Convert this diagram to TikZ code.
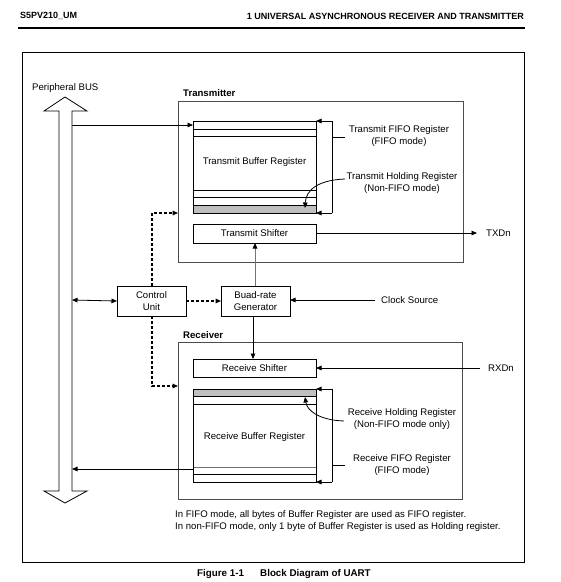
\documentclass[tikz,border=0pt]{standalone}
\usepackage{fontspec}
\setmainfont{Liberation Sans}
\usetikzlibrary{arrows.meta}
\begin{document}
\begin{tikzpicture}[x=1pt,y=-1pt,
  font=\fontsize{9.6}{12}\selectfont,
  ln/.style={line width=0.8pt, draw=black},
  box/.style={ln, rectangle, inner sep=0pt, outer sep=0pt, align=center},
  frame/.style={ln, draw=black!70, rectangle, inner sep=0pt, outer sep=0pt},
  tip/.style={-{Triangle[length=5.5pt,width=4.6pt,color=black]}},
  dtip/.style={{Triangle[length=5.5pt,width=4.6pt]}-{Triangle[length=5.5pt,width=4.6pt]}},
  dashln/.style={dash pattern=on 3pt off 2pt, line width=1.2pt},
  lbl/.style={inner sep=0pt, align=center},
  gline/.style={line width=1pt, draw=black!55},
]
\useasboundingbox (0,0) rectangle (561,582);
% header
\node[lbl, anchor=west, font=\fontsize{9}{10}\bfseries] (hl) at (20,16) {S5PV210\_UM};
\node[lbl, anchor=east, font=\fontsize{9}{10}\bfseries] (hr) at (524,16) {1 UNIVERSAL ASYNCHRONOUS RECEIVER AND TRANSMITTER};
\coordinate (rl) at (18,28);
\coordinate (rr) at (525,28);
\draw[line width=2pt] (rl) -- (rr);
% outer frame
\node[ln, rectangle, inner sep=0pt, minimum width=502, minimum height=510, anchor=north west] (outer) at (22,52) {};
% peripheral bus
\node[lbl, anchor=west] (busl) at (32,88) {Peripheral BUS};
\draw[ln] (59,111) -- (44,111) -- (65,97) -- (87,111) -- (72,111) -- (72,491) -- (87,491) -- (65,503) -- (44,491) -- (59,491) -- cycle;
\coordinate (busTx) at (72,125);
\coordinate (busCtl) at (72,300);
\coordinate (busRx) at (72,469);
% transmitter
\node[frame, minimum width=285, minimum height=161] (tx) at (320.5,181.5) {};
\node[lbl, anchor=west, font=\fontsize{9.6}{12}\bfseries] (txl) at (183,93) {Transmitter};
\node[box, minimum width=123, minimum height=92] (txbuf) at (254.5,167) {};
\node[lbl] (txbufl) at (254.5,162) {Transmit Buffer Register};
\fill[black!25] (193,205) rectangle (316,213);
\draw[ln] (193,129) -- (316,129) (193,136) -- (316,136) (193,190) -- (316,190) (193,197) -- (316,197) (193,205) -- (316,205);
\draw[ln] (txbuf.north west) rectangle (txbuf.south east);
\node[box, minimum width=123, minimum height=19] (txsh) at (254.5,233.5) {Transmit Shifter};
% tx bracket
\coordinate (tb1) at (332,121);
\coordinate (tb2) at (332,213);
\coordinate (tb3) at (332,137);
\coordinate (tb4) at (345,137);
\draw[ln] (tb1) -- (tb2);
\draw[ln, tip] (tb1) -- (tb1 -| txbuf.east);
\draw[ln, tip] (tb2) -- (tb2 -| txbuf.east);
\draw[ln] (tb3) -- (tb4);
\node[lbl] (txfifo) at (399,136) {Transmit FIFO Register\\(FIFO mode)};
\node[lbl] (txhold) at (402,183) {Transmit Holding Register\\(Non-FIFO mode)};
\coordinate (th1) at (345,179);
\coordinate (th2) at (305,208);
\draw[ln, tip] (th1) .. controls (318,180) and (306,190) .. (th2);
% TXDn
\node[lbl, anchor=west] (txd) at (486,233) {TXDn};
\draw[ln, tip] (txsh.east |- txd) -- ([xshift=-9pt]txd.west);
% control & baud
\node[box, minimum width=69, minimum height=30] (ctl) at (151.5,301) {Control\\Unit};
\node[box, minimum width=69, minimum height=30] (baud) at (255.5,301) {Buad-rate\\Generator};
\draw[ln, dtip] (busCtl) -- (ctl.west);
\draw[dashln, tip] (ctl.east) -- (baud.west);
\coordinate (ct1) at (152,213);
\coordinate (ct2) at (152,386);
\draw[dashln, tip] (ctl.north -| ct1) -- (ct1) -- (ct1 -| tx.west);
\node[lbl, anchor=west] (clk) at (381,300) {Clock Source};
\draw[ln, tip] ([xshift=-6pt]clk.west) -- (baud.east |- clk);
\coordinate (bu) at (255,0);
\coordinate (bd) at (253,0);
\draw[gline, tip] (baud.north -| bu) -- (txsh.south -| bu);
% receiver
\node[frame, minimum width=284, minimum height=157] (rx) at (320,420.5) {};
\node[lbl, anchor=west, font=\fontsize{9.6}{12}\bfseries] (rxl) at (183,335) {Receiver};
\node[box, minimum width=123, minimum height=18] (rxsh) at (254.5,368) {Receive Shifter};
\draw[ln, tip] (baud.south -| bd) -- (rxsh.north -| bd);
\draw[dashln, tip] (ctl.south -| ct2) -- (ct2) -- (ct2 -| rx.west);
\node[box, minimum width=123, minimum height=93] (rxbuf) at (254.5,435.5) {};
\node[lbl] (rxbufl) at (254.5,437) {Receive Buffer Register};
\fill[black!25] (193,389) rectangle (316,396);
\draw[ln] (193,396) -- (316,396) (193,404) -- (316,404) (193,474) -- (316,474);
\draw[line width=1pt, draw=black!55] (193,467) -- (316,467);
\draw[ln] (rxbuf.north west) rectangle (rxbuf.south east);
% rx bracket
\coordinate (rb1) at (332,389);
\coordinate (rb2) at (332,482);
\coordinate (rb3) at (332,465);
\coordinate (rb4) at (345,465);
\draw[ln] (rb1) -- (rb2);
\draw[ln, tip] (rb1) -- (rb1 -| rxbuf.east);
\draw[ln, tip] (rb2) -- (rb2 -| rxbuf.east);
\draw[ln] (rb3) -- (rb4);
\node[lbl] (rxfifo) at (402,465) {Receive FIFO Register\\(FIFO mode)};
\node[lbl] (rxhold) at (402,419) {Receive Holding Register\\(Non-FIFO mode only)};
\coordinate (rh1) at (344,421);
\coordinate (rh2) at (305,397);
\draw[ln, tip] (rh1) .. controls (318,420) and (307,410) .. (rh2);
% RXDn
\node[lbl, anchor=west] (rxd) at (488,368) {RXDn};
\draw[ln, tip] ([xshift=-8pt]rxd.west) -- (rxsh.east |- rxd);
% bus connections
\draw[ln, tip] (busTx) -- (busTx -| txbuf.west);
\draw[ln, tip] (busRx -| rxbuf.west) -- (busRx);
% notes
\node[lbl, anchor=west, align=left] (notes) at (175,521) {In FIFO mode, all bytes of Buffer Register are used as FIFO register.\\In non-FIFO mode, only 1 byte of Buffer Register is used as Holding register.};
% caption
\node[lbl, anchor=west, font=\fontsize{9.8}{12}\bfseries] (cap1) at (197,574) {Figure 1-1};
\node[lbl, anchor=west, font=\fontsize{9.8}{12}\bfseries] (cap2) at (260,574) {Block Diagram of UART};
\end{tikzpicture}
\end{document}
